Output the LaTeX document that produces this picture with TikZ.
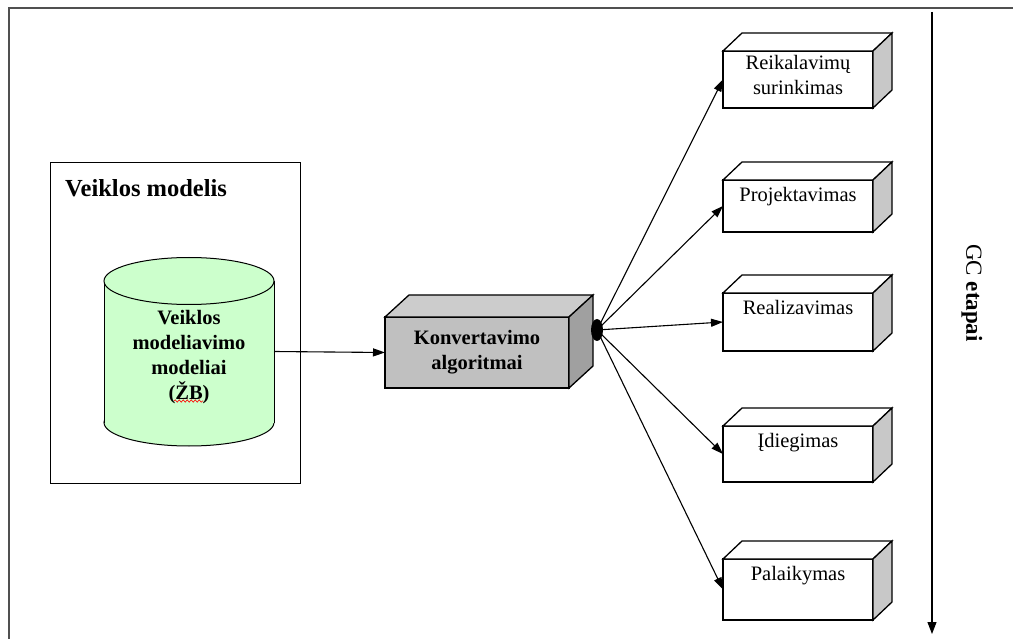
\documentclass[tikz,border=0pt]{standalone}
\usepackage{fontspec}
\setmainfont{Liberation Serif}
\usetikzlibrary{arrows.meta,shapes.geometric,decorations.pathmorphing}
\definecolor{cylgreen}{RGB}{204,255,204}
\definecolor{konfront}{RGB}{192,192,192}
\definecolor{kontop}{RGB}{204,204,204}
\definecolor{konside}{RGB}{160,160,160}
\definecolor{sidegray}{RGB}{200,200,200}
\definecolor{framegray}{RGB}{80,80,80}
\newcommand\cubefaces[5]{%
  \filldraw[boxline,fill=#4] (#1.north west) -- ++(#2,#3) -- ([shift={(#2,#3)}]#1.north east) -- (#1.north east) -- cycle;
  \filldraw[boxline,fill=#5] (#1.north east) -- ([shift={(#2,#3)}]#1.north east) -- ([shift={(#2,#3)}]#1.south east) -- (#1.south east) -- cycle;}
\begin{document}
\begin{tikzpicture}[x=1pt,y=-1pt,
  boxline/.style={draw=black,line width=1.3pt,line join=miter},
  frontface/.style={boxline,fill=white,rectangle,minimum width=150pt,anchor=north west,outer sep=0pt,inner sep=0pt},
  stagetext/.style={font=\fontsize{20.5}{25}\selectfont,align=center,anchor=north,inner sep=0pt},
  conn/.style={draw=black,line width=1.1pt,-{Triangle[length=12pt,width=8pt]}}]
\useasboundingbox (0,0) rectangle (1013,639);
% outer frame
\draw[framegray,line width=1.6pt] (9,645) -- (9,8) -- (1020,8);
% Veiklos modelis box
\node[boxline,line width=1pt,rectangle,minimum width=250pt,minimum height=320pt,anchor=north west,outer sep=0pt] (vm) at (50,163) {};
\node[font=\fontsize{24.5}{28}\selectfont\bfseries,anchor=west,inner sep=0pt] (vmtitle) at (65,188) {Veiklos modelis};
% cylinder
\filldraw[draw=black,line width=1pt,fill=cylgreen] (189,422.5) ellipse [x radius=85,y radius=23.5];
\fill[cylgreen] (104,281) rectangle (274,422.5);
\draw[black,line width=1pt] (104,281) -- (104,422.5) (274,281) -- (274,422.5);
\filldraw[draw=black,line width=1pt,fill=cylgreen] (189,281) ellipse [x radius=85,y radius=23.5];
\node[minimum width=170pt,minimum height=189pt,anchor=north west,inner sep=0pt,outer sep=0pt] (cyl) at (104,257) {};
\node[font=\fontsize{20.5}{25}\selectfont\bfseries,align=center,inner sep=0pt] (cyltext) at (189,357) {Veiklos\\modeliavimo\\modeliai\\(ŽB)};
\draw[red,line width=0.6pt,decorate,decoration={snake,amplitude=1.2pt,segment length=4pt}] (174,401) -- (203,401);
% Konvertavimo algoritmai
\node[boxline,fill=konfront,rectangle,minimum width=184pt,minimum height=71pt,anchor=north west,outer sep=0pt,
  font=\fontsize{20.5}{25}\selectfont\bfseries,align=center] (kon) at (385,317) {Konvertavimo\\algoritmai};
\cubefaces{kon}{24}{-22}{kontop}{konside}
% stages
\node[frontface,minimum height=57pt] (s1) at (723,51) {};
\node[frontface,minimum height=52pt] (s2) at (723,180) {};
\node[frontface,minimum height=58pt] (s3) at (723,293) {};
\node[frontface,minimum height=56pt] (s4) at (723,426) {};
\node[frontface,minimum height=61pt] (s5) at (723,559) {};
\cubefaces{s1}{19}{-18}{white}{sidegray}
\cubefaces{s2}{19}{-18}{white}{sidegray}
\cubefaces{s3}{19}{-18}{white}{sidegray}
\cubefaces{s4}{19}{-18}{white}{sidegray}
\cubefaces{s5}{19}{-18}{white}{sidegray}
\node[stagetext] (t1) at ([yshift=-4pt]s1.north) {Reikalavimų\\surinkimas};
\node[stagetext] (t2) at ([yshift=-7pt]s2.north) {Projektavimas};
\node[stagetext] (t3) at ([yshift=-7pt]s3.north) {Realizavimas};
\node[stagetext] (t4) at ([yshift=-7pt]s4.north) {Įdiegimas};
\node[stagetext] (t5) at ([yshift=-7pt]s5.north) {Palaikymas};
% connectors
\draw[conn] (cyl.east) -- (kon.west);
\node[ellipse,fill=black,minimum width=12pt,minimum height=22pt,inner sep=0pt] (blob) at (597,330) {};
\foreach \s in {s1,s2,s3,s4,s5}{\draw[conn] (blob.center) -- (\s.west);}
% GC etapai
\coordinate (gtop) at (932,12);
\coordinate (gbot) at (932,634);
\draw[line width=1.1pt,-{Triangle[length=12pt,width=9pt]}] (gtop) -- (gbot);
\node[rotate=-90,font=\fontsize{23}{26}\selectfont,inner sep=0pt] (gc) at (972,293) {GC \textbf{etapai}};
\end{tikzpicture}
\end{document}
